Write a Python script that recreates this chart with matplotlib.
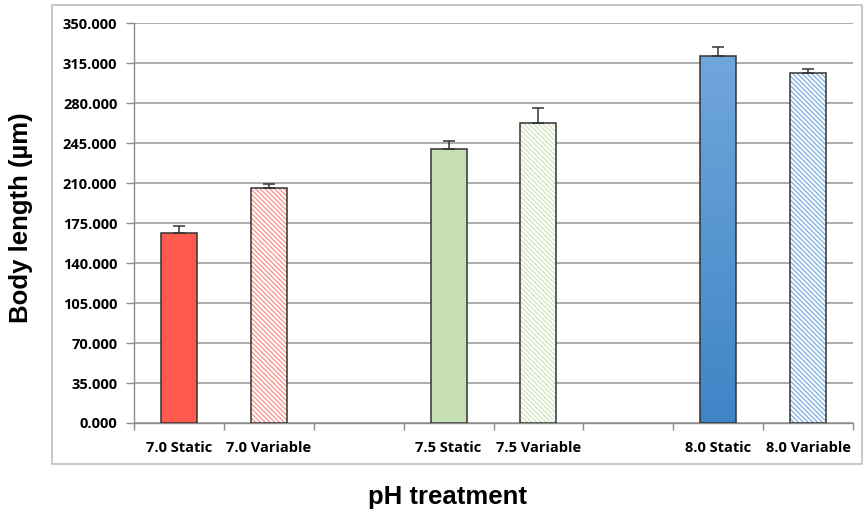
import numpy as np
import matplotlib
matplotlib.use("Agg")
import matplotlib.pyplot as plt
from matplotlib.patches import Rectangle

# data
labels = ["7.0 Static", "7.0 Variable", "", "7.5 Static", "7.5 Variable", "", "8.0 Static", "8.0 Variable"]
lengths = [166.1, 206.0, np.nan, 239.9, 262.7, np.nan, 321.1, 306.7]
errors = [6.4, 3.0, np.nan, 7.0, 13.0, np.nan, 8.4, 3.5]
yticks = np.arange(0, 351, 35)

solid_colors = {0: "#FF5A4F", 3: "#C6E0B4", 6: None}
hatch_colors = {1: "#F79990", 4: "#D2E6C2", 7: "#86B4E4"}

plt.rcParams['hatch.linewidth'] = 1.0

fig = plt.figure(figsize=(8.65, 5.15), dpi=100)
ax = fig.add_axes([134 / 865, 1 - 423 / 515, (853 - 134) / 865, (423 - 23.3) / 515])

# outer frame of the chart
fig.patches.append(Rectangle((52 / 865, 1 - 464 / 515), (862 - 52) / 865, (464 - 5) / 515,
                             transform=fig.transFigure, fill=False, edgecolor="#BFBFBF", lw=1.2))

x = np.arange(len(labels))
for i in range(len(labels)):
    if np.isnan(lengths[i]):
        continue
    if i in hatch_colors:
        ax.bar(x[i], lengths[i], width=0.4, facecolor="white", edgecolor=hatch_colors[i],
               hatch="\\" * 7, lw=0, zorder=3)
        ax.bar(x[i], lengths[i], width=0.4, fill=False, edgecolor="#333333", lw=1.1, zorder=4)
    elif solid_colors[i] is not None:
        ax.bar(x[i], lengths[i], width=0.4, color=solid_colors[i], edgecolor="#333333", lw=1.1, zorder=3)
    else:
        # blue bar with vertical gradient
        b = ax.bar(x[i], lengths[i], width=0.4, facecolor="none", edgecolor="#333333", lw=1.1, zorder=4)
        grad = np.linspace(0, 1, 256).reshape(-1, 1)
        cmap = matplotlib.colors.LinearSegmentedColormap.from_list("blu", ["#3F85C6", "#70A6DC"])
        im = ax.imshow(grad, cmap=cmap, origin="lower", aspect="auto",
                       extent=(x[i] - 0.2, x[i] + 0.2, 0, lengths[i]), zorder=3)
        im.set_clip_path(b.patches[0])
    ax.errorbar(x[i], lengths[i], yerr=[[0], [errors[i]]], fmt="none", ecolor="#333333",
                elinewidth=1.1, capsize=4, capthick=1.1, zorder=5)

ax.set_xlim(-0.5, len(labels) - 0.5)
ax.set_ylim(0, 350)
ax.set_yticks(yticks)
ax.set_yticklabels([f"{v:.3f}" for v in yticks], fontfamily="Open Sans", fontweight="bold", fontsize=10.5)
ax.set_xticks(np.arange(-0.5, len(labels), 1))
ax.set_xticklabels([])
ax.set_xticks(x, minor=True)
ax.set_xticklabels(labels, minor=True, fontfamily="Open Sans", fontweight="bold", fontsize=10.5)
ax.tick_params(axis="x", which="minor", length=0, pad=13)
ax.tick_params(axis="x", which="major", length=5, color="#8C8C8C", width=1)
ax.tick_params(axis="y", length=6, color="#8C8C8C", width=1, pad=6)

ax.grid(axis="y", color="#A6A6A6", lw=1.3, zorder=0)
ax.set_axisbelow(True)
for s in ["top", "right"]:
    ax.spines[s].set_visible(False)
for s in ["left", "bottom"]:
    ax.spines[s].set_color("#8C8C8C")
    ax.spines[s].set_linewidth(1)

fig.text(21.5 / 865, 1 - 218 / 515, "Body length (µm)", rotation=90, ha="center", va="center",
         fontfamily="Liberation Sans", fontweight="bold", fontsize=18.5)
fig.text(447.5 / 865, 1 - 497 / 515, "pH treatment", ha="center", va="center",
         fontfamily="Liberation Sans", fontweight="bold", fontsize=18.5)

fig.savefig("out.png", dpi=100)
